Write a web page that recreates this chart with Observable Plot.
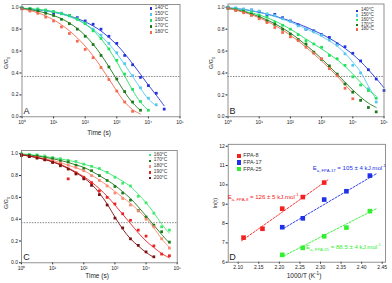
<!DOCTYPE html>
<html><head><meta charset="utf-8">
<script src="https://cdn.jsdelivr.net/npm/d3@7"></script>
<script src="https://cdn.jsdelivr.net/npm/@observablehq/plot@0.6"></script>
<style>
body{margin:0;background:#fff;font-family:"Liberation Sans",Arial,sans-serif;}
#root{position:relative;width:392px;height:283px;overflow:hidden;background:#fff}
.panel{position:absolute}
.lbl{position:absolute;white-space:nowrap;color:#222;line-height:1}
.c{transform:translate(-50%,-50%)}
.rot{transform:translate(-50%,-50%) rotate(-90deg)}
.leg{position:absolute;white-space:nowrap;font-size:4.8px;color:#333;line-height:1}
.sq{position:absolute;width:2.6px;height:2.6px}
sub,sup{font-size:70%;line-height:0}
</style></head>
<body><div id="root"></div>
<script>
// ---------- data ----------
const timeGrid = [1, 1.778, 3.162, 5.623, 10, 17.78, 31.62, 56.23, 100, 177.8, 316.2, 562.3, 1000, 1778, 3162, 5623, 10000, 17783, 31623, 56234, 100000];
const xTicksLog = [1, 10, 100, 1000, 10000, 100000];
const yTicksG = [0, 0.2, 0.4, 0.6, 0.8, 1.0];
const threshold = [0.368];

// Panel A
const seriesA = ["140°C", "150°C", "160°C", "170°C", "180°C"];
const colorsA = ["#2233dd", "#55c8f0", "#22e060", "#1a7a1a", "#f46a50"];
const ptsA140 = [0.99, 0.985, 0.975, 0.965, 0.95, 0.945, 0.925, 0.905, 0.875, 0.845, 0.80, 0.735, 0.67, 0.56, 0.475, 0.36, 0.285, 0.215, 0.07];
const ptsA150 = [0.995, 0.985, 0.98, 0.97, 0.96, 0.945, 0.92, 0.895, 0.855, 0.80, 0.745, 0.67, 0.585, 0.485, 0.375, 0.265, 0.17, 0.11];
const ptsA160 = [0.995, 0.99, 0.985, 0.975, 0.96, 0.94, 0.925, 0.89, 0.85, 0.785, 0.715, 0.62, 0.515, 0.39, 0.25, 0.14, 0.06];
const ptsA170 = [0.99, 0.98, 0.965, 0.945, 0.925, 0.89, 0.85, 0.80, 0.735, 0.66, 0.56, 0.455, 0.345, 0.23, 0.135, 0.06];
const ptsA180 = [0.985, 0.965, 0.945, 0.91, 0.875, 0.82, 0.76, 0.69, 0.615, 0.54, 0.45, 0.34, 0.235, 0.135, 0.05];
const fitA140 = [0.99, 0.984, 0.976, 0.967, 0.955, 0.94, 0.92, 0.897, 0.867, 0.83, 0.783, 0.725, 0.657, 0.576, 0.485, 0.388, 0.289, 0.197, 0.10];
const fitA150 = [0.99, 0.984, 0.977, 0.968, 0.955, 0.938, 0.914, 0.884, 0.847, 0.799, 0.739, 0.665, 0.577, 0.477, 0.368, 0.26, 0.162, 0.10];
const fitA160 = [0.992, 0.987, 0.981, 0.973, 0.961, 0.945, 0.922, 0.891, 0.847, 0.789, 0.713, 0.617, 0.501, 0.373, 0.244, 0.133, 0.06];
const fitA170 = [0.988, 0.978, 0.965, 0.947, 0.924, 0.895, 0.856, 0.806, 0.742, 0.663, 0.567, 0.457, 0.34, 0.225, 0.128, 0.058];
const fitA180 = [0.985, 0.97, 0.95, 0.92, 0.885, 0.84, 0.785, 0.72, 0.645, 0.555, 0.455, 0.345, 0.235, 0.135, 0.065, 0.025];

// Panel B
const seriesB = ["140°C", "150°C", "160°C", "170°C", "180°C"];
const colorsB = ["#2233dd", "#55c8f0", "#22e060", "#1a7a1a", "#f46a50"];
const ptsB140 = [1.0, 0.99, 0.98, 0.975, 0.96, 0.93, 0.935, 0.905, 0.875, 0.84, 0.80, 0.785, 0.75, 0.725, 0.665, 0.64, 0.58, 0.51, 0.43, 0.345, 0.24];
const ptsB150 = [1.0, 0.995, 0.985, 0.975, 0.965, 0.94, 0.925, 0.895, 0.87, 0.83, 0.80, 0.775, 0.745, 0.70, 0.655, 0.575, 0.47, 0.40, 0.255, 0.135];
const ptsB160 = [0.995, 0.985, 0.97, 0.955, 0.93, 0.91, 0.865, 0.835, 0.80, 0.75, 0.695, 0.665, 0.635, 0.56, 0.53, 0.47, 0.365, 0.29, 0.24, 0.17];
const ptsB170 = [0.99, 0.975, 0.96, 0.935, 0.91, 0.875, 0.845, 0.80, 0.755, 0.705, 0.665, 0.59, 0.525, 0.465, 0.39, 0.30, 0.225, 0.15, 0.085, 0.045];
const ptsB180 = [0.99, 0.97, 0.95, 0.925, 0.895, 0.86, 0.815, 0.77, 0.73, 0.695, 0.635, 0.58, 0.53, 0.44, 0.375, 0.26, 0.165];
const fitB140 = [0.995, 0.988, 0.98, 0.968, 0.955, 0.938, 0.92, 0.898, 0.875, 0.848, 0.82, 0.788, 0.755, 0.717, 0.675, 0.625, 0.57, 0.505, 0.43, 0.35, 0.265];
const fitB150 = [0.995, 0.99, 0.98, 0.97, 0.955, 0.937, 0.915, 0.892, 0.865, 0.835, 0.805, 0.772, 0.735, 0.693, 0.645, 0.58, 0.50, 0.41, 0.28, 0.16];
const fitB160 = [0.99, 0.98, 0.965, 0.95, 0.93, 0.905, 0.875, 0.84, 0.80, 0.757, 0.71, 0.665, 0.62, 0.572, 0.52, 0.46, 0.39, 0.315, 0.245, 0.19];
const fitB170 = [0.99, 0.977, 0.96, 0.94, 0.915, 0.885, 0.85, 0.81, 0.765, 0.712, 0.655, 0.595, 0.53, 0.46, 0.39, 0.315, 0.245, 0.18, 0.125, 0.085];
const fitB180 = [0.99, 0.975, 0.955, 0.932, 0.905, 0.872, 0.835, 0.793, 0.745, 0.693, 0.635, 0.575, 0.51, 0.442, 0.37, 0.293, 0.215];

// Panel C
const seriesC = ["160°C", "170°C", "180°C", "190°C", "200°C"];
const colorsC = ["#40e870", "#1c7c1c", "#f78a70", "#ee2020", "#7a1010"];
const ptsC160 = [1.0, 0.995, 0.99, 0.98, 0.965, 0.955, 0.94, 0.93, 0.905, 0.885, 0.865, 0.83, 0.785, 0.73, 0.705, 0.61, 0.55, 0.455, 0.33, 0.30];
const ptsC170 = [0.995, 0.985, 0.98, 0.965, 0.955, 0.935, 0.925, 0.895, 0.865, 0.845, 0.80, 0.755, 0.70, 0.64, 0.575, 0.48, 0.42, 0.345, 0.285, 0.19];
const ptsC180 = [0.985, 0.975, 0.965, 0.95, 0.935, 0.915, 0.895, 0.875, 0.845, 0.80, 0.755, 0.705, 0.64, 0.59, 0.53, 0.475, 0.40, 0.33, 0.22, 0.135];
const ptsC190 = [0.99, 0.975, 0.965, 0.945, 0.925, 0.90, 0.77, 0.825, 0.785, 0.735, 0.66, 0.60, 0.54, 0.45, 0.39, 0.30, 0.245, 0.155, 0.08, 0.065];
const ptsC200 = [0.985, 0.975, 0.96, 0.945, 0.92, 0.89, 0.86, 0.815, 0.77, 0.71, 0.625, 0.53, 0.41, 0.32, 0.22, 0.16, 0.10, 0.055];
const fitC160 = [1.0, 0.993, 0.985, 0.976, 0.965, 0.953, 0.94, 0.924, 0.905, 0.884, 0.86, 0.828, 0.79, 0.748, 0.70, 0.63, 0.55, 0.46, 0.355, 0.27];
const fitC170 = [0.995, 0.988, 0.98, 0.968, 0.955, 0.939, 0.92, 0.898, 0.875, 0.84, 0.80, 0.757, 0.71, 0.652, 0.59, 0.513, 0.43, 0.345, 0.26, 0.18];
const fitC180 = [0.99, 0.981, 0.97, 0.956, 0.94, 0.919, 0.895, 0.871, 0.845, 0.805, 0.76, 0.71, 0.655, 0.60, 0.545, 0.48, 0.41, 0.32, 0.22, 0.14];
const fitC190 = [0.99, 0.979, 0.965, 0.949, 0.93, 0.903, 0.87, 0.832, 0.79, 0.74, 0.68, 0.61, 0.53, 0.445, 0.36, 0.275, 0.20, 0.14, 0.085, 0.045];
const fitC200 = [0.99, 0.978, 0.965, 0.947, 0.925, 0.898, 0.865, 0.825, 0.78, 0.72, 0.64, 0.54, 0.42, 0.31, 0.22, 0.155, 0.095, 0.05];

// Panel D
const seriesD = ["FPA-8", "FPA-17", "FPA-25"];
const colorsD = ["#f52020", "#2030e8", "#30f030"];
const invT8 = [2.113, 2.159, 2.207, 2.257, 2.309];
const lnTau8 = [7.27, 7.73, 8.77, 9.37, 10.12];
const invT17 = [2.207, 2.257, 2.309, 2.363, 2.420];
const lnTau17 = [7.81, 8.27, 9.24, 9.67, 10.48];
const invT25 = [2.207, 2.257, 2.309, 2.363, 2.420];
const lnTau25 = [6.38, 6.74, 7.34, 7.79, 8.64];
const fitX8 = [2.108, 2.318], fitY8 = [7.10, 10.26];
const fitX17 = [2.211, 2.436], fitY17 = [7.76, 10.58];
const fitX25 = [2.211, 2.436], fitY25 = [6.33, 8.77];
const xTicksD = [2.10, 2.15, 2.20, 2.25, 2.30, 2.35, 2.40, 2.45];
const yTicksD = [6, 7, 8, 9, 10, 11, 12];

// ---------- drawing ----------
const root = document.getElementById("root");
const supDigits = {"0":"⁰","1":"¹","2":"²","3":"³","4":"⁴","5":"⁵"};
const supFmt = d => "10" + supDigits[String(Math.round(Math.log10(d)))];
const font = "Liberation Sans, Arial, sans-serif";

function place(node, left, top) {
  const wrap = document.createElement("div");
  wrap.className = "panel";
  wrap.style.left = left + "px";
  wrap.style.top = top + "px";
  wrap.appendChild(node);
  root.appendChild(wrap);
}
function label(html, x, y, size, cls, color, extra) {
  const d = document.createElement("div");
  d.className = "lbl " + (cls || "");
  d.style.left = x + "px";
  d.style.top = y + "px";
  d.style.fontSize = size + "px";
  if (color) d.style.color = color;
  if (extra) Object.assign(d.style, extra);
  d.innerHTML = html;
  root.appendChild(d);
}
function legend(series, colors, x, y0, dy, size, sq) {
  series.forEach((s, k) => {
    const q = document.createElement("div");
    q.className = "sq";
    q.style.width = q.style.height = sq + "px";
    q.style.background = colors[k];
    q.style.left = (x - sq / 2) + "px";
    q.style.top = (y0 + k * dy - sq / 2) + "px";
    root.appendChild(q);
    const t = document.createElement("div");
    t.className = "leg";
    t.style.fontSize = size + "px";
    t.style.left = (x + sq / 2 + 2.5) + "px";
    t.style.top = (y0 + k * dy - size * 0.5) + "px";
    t.textContent = s;
    root.appendChild(t);
  });
}
const rows = (vals, s) => vals.map((g, i) => ({t: timeGrid[i], g, s}));

function relaxPanel(o) {
  const ptRows = o.series.flatMap((s, k) => rows(o.pts[k], s));
  const fitRows = o.series.flatMap((s, k) => rows(o.fits[k], s));
  return Plot.plot({
    width: o.width, height: o.height,
    marginLeft: o.mL, marginRight: o.mR, marginTop: o.mT, marginBottom: o.mB,
    style: {fontFamily: font, fontSize: "5px", color: "#222", background: "transparent", overflow: "visible"},
    x: {type: "log", domain: [1, 1e5], ticks: xTicksLog, tickFormat: supFmt, tickSize: 2, tickPadding: 1.5, label: null},
    y: {domain: [0, o.yMax], ticks: yTicksG, tickFormat: d => d.toFixed(1), tickSize: 2, tickPadding: 1.5, label: null},
    color: {domain: o.series, range: o.colors},
    marks: [
      Plot.ruleY(threshold, {stroke: "#555", strokeDasharray: "1.5,1.2", strokeWidth: 0.7}),
      Plot.line(fitRows, {x: "t", y: "g", z: "s", stroke: "s", strokeWidth: 0.9, curve: "catmull-rom"}),
      Plot.dot(ptRows, {x: "t", y: "g", fill: "s", symbol: "square", r: 1.55}),
      Plot.frame({stroke: "#777", strokeWidth: 0.8})
    ]
  });
}

// Panel A
place(relaxPanel({width: 196, height: 140, mL: 21.5, mR: 16.5, mT: 4, mB: 23.7, yMax: 1.025,
  series: seriesA, colors: colorsA,
  pts: [ptsA140, ptsA150, ptsA160, ptsA170, ptsA180],
  fits: [fitA140, fitA150, fitA160, fitA170, fitA180]}), 0, 0);
// Panel B
place(relaxPanel({width: 196, height: 140, mL: 31.5, mR: 8.5, mT: 3.5, mB: 23.7, yMax: 1.03,
  series: seriesB, colors: colorsB,
  pts: [ptsB140, ptsB150, ptsB160, ptsB170, ptsB180],
  fits: [fitB140, fitB150, fitB160, fitB170, fitB180]}), 196, 0);
// Panel C
place(relaxPanel({width: 196, height: 143, mL: 21, mR: 19.3, mT: 10, mB: 20.7, yMax: 1.03,
  series: seriesC, colors: colorsC,
  pts: [ptsC160, ptsC170, ptsC180, ptsC190, ptsC200],
  fits: [fitC160, fitC170, fitC180, fitC190, fitC200]}), 0, 140);

// Panel D
const dPts = [
  ...invT8.map((x, i) => ({x, y: lnTau8[i], s: "FPA-8"})),
  ...invT17.map((x, i) => ({x, y: lnTau17[i], s: "FPA-17"})),
  ...invT25.map((x, i) => ({x, y: lnTau25[i], s: "FPA-25"}))
];
const dFits = [
  ...fitX8.map((x, i) => ({x, y: fitY8[i], s: "FPA-8"})),
  ...fitX17.map((x, i) => ({x, y: fitY17[i], s: "FPA-17"})),
  ...fitX25.map((x, i) => ({x, y: fitY25[i], s: "FPA-25"}))
];
place(Plot.plot({
  width: 196, height: 143, marginLeft: 31.7, marginRight: 7, marginTop: 3.8, marginBottom: 21.3,
  style: {fontFamily: font, fontSize: "5px", color: "#222", background: "transparent", overflow: "visible"},
  x: {domain: [2.0757, 2.458], ticks: xTicksD, tickFormat: d => d.toFixed(2), tickSize: 2, tickPadding: 1.5, label: null},
  y: {domain: [6, 12.1], ticks: yTicksD, tickFormat: d => String(d), tickSize: 2, tickPadding: 1.5, label: null},
  color: {domain: seriesD, range: colorsD},
  marks: [
    Plot.line(dFits, {x: "x", y: "y", z: "s", stroke: "s", strokeWidth: 0.9, strokeDasharray: "2,1.5"}),
    Plot.dot(dPts, {x: "x", y: "y", fill: "s", symbol: "square", r: 2.6}),
    Plot.frame({stroke: "#777", strokeWidth: 0.8})
  ]
}), 196, 140);

// axis titles
label("G/G<sub>0</sub>", 7.3, 63, 5.5, "rot");
label("Time (s)", 99, 133, 6.5, "c");
label("G/G<sub>0</sub>", 212, 63, 5.5, "rot");
label("G/G<sub>0</sub>", 7.3, 203, 5.5, "rot");
label("Time (s)", 97, 276, 6.5, "c");
label("ln(τ)", 216, 203, 5.5, "rot");
label("1000/T (K<sup>-1</sup>)", 304, 276, 6.5, "c");

// panel letters
label("A", 26.5, 110.5, 9, "c");
label("B", 232.5, 110.5, 9, "c");
label("C", 26.5, 256.5, 9, "c");
label("D", 232.5, 256.5, 9, "c");

// legends
legend(seriesA, colorsA, 151, 8.5, 6, 4.8, 2.6);
legend(seriesB, colorsB, 357.3, 10.7, 4.7, 4.6, 2.4);
legend(seriesC, colorsC, 150, 155, 5.8, 4.8, 2.6);
legend(seriesD, colorsD, 238.7, 155.7, 6.8, 5.5, 4.2);

// activation energy annotations
label("E<sub>a, FPA-17</sub> = 105 ± 4 kJ.mol<sup>-1</sup>", 312.7, 165.2, 6.1, "", colorsD[1]);
label("E<sub>a, FPA-8</sub> = 126 ± 5 kJ.mol<sup>-1</sup>", 227.7, 193.6, 6.1, "", colorsD[0]);
label("E<sub>a, FPA-25</sub> = 88.5 ± 4 kJ.mol<sup>-1</sup>", 306, 243.6, 6.1, "", colorsD[2]);
</script></body></html>
